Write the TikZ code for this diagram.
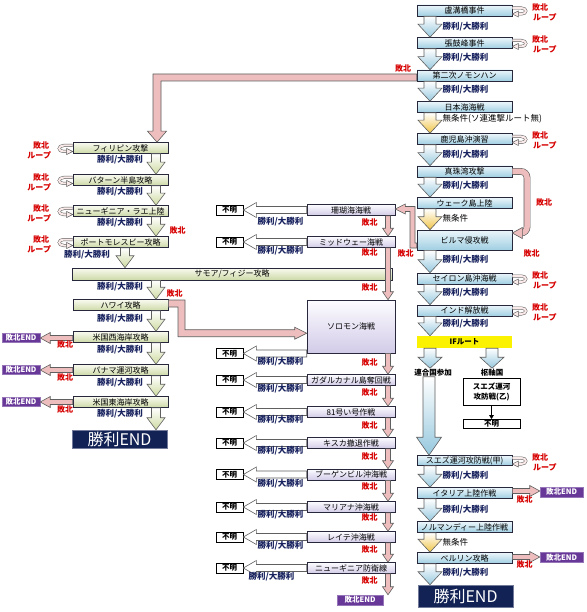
\documentclass[tikz,border=0pt]{standalone}
\usepackage{fontspec}
\setmainfont{Noto Sans CJK JP}
\usetikzlibrary{calc,arrows.meta}
\pgfdeclarelayer{back}
\pgfsetlayers{back,main}
\definecolor{bordc}{RGB}{40,40,60}
\definecolor{rtop}{RGB}{236,246,251}
\definecolor{rbot}{RGB}{160,207,226}
\definecolor{ltop}{RGB}{249,251,240}
\definecolor{lbot}{RGB}{205,217,168}
\definecolor{mtop}{RGB}{253,252,255}
\definecolor{mbot}{RGB}{210,203,232}
\definecolor{arrc}{RGB}{95,95,95}
\definecolor{bluec}{RGB}{150,200,222}
\definecolor{yelc}{RGB}{240,196,70}
\definecolor{grnc}{RGB}{205,218,160}
\definecolor{pinkc}{RGB}{238,190,190}
\definecolor{loopc}{RGB}{250,234,234}
\definecolor{purp}{RGB}{104,56,152}
\definecolor{navy}{RGB}{18,34,84}
\definecolor{winc}{RGB}{25,35,95}
\definecolor{losec}{RGB}{215,0,0}
\definecolor{ifc}{RGB}{250,242,0}
\tikzset{
 bx/.style={draw=bordc, line width=0.6pt, minimum height=11pt, inner sep=0pt, font=\fontsize{8}{9}\selectfont, text=black},
 rbox/.style={bx, minimum width=95pt, top color=rtop, bottom color=rbot},
 lbox/.style={bx, minimum width=95pt, top color=ltop, bottom color=lbot},
 mbox/.style={bx, minimum width=88pt, top color=mtop, bottom color=mbot},
 unk/.style={draw=black, line width=0.7pt, fill=white, minimum width=27pt, minimum height=10pt, inner sep=0pt, font=\bfseries\fontsize{7.5}{8}\selectfont},
 endbox/.style={fill=purp, draw=purp!70!white, line width=0.5pt, text=white, font=\bfseries\fontsize{7.5}{8}\selectfont, inner sep=0pt, minimum height=10pt},
 winbox/.style={fill=navy, draw=navy!60!white, line width=0.5pt, text=white, font=\fontsize{16}{16}\selectfont, inner sep=0pt, minimum width=95pt},
 ifbox/.style={fill=ifc, minimum width=95pt, minimum height=12pt, inner sep=0pt, font=\bfseries\fontsize{7.5}{8}\selectfont},
 suez/.style={draw=black, line width=0.7pt, fill=white, minimum width=57pt, minimum height=27pt, inner sep=0pt, align=center, font=\bfseries\fontsize{7.5}{10}\selectfont},
 win/.style={text=winc, font=\bfseries\fontsize{8.5}{9}\selectfont, inner sep=0.5pt},
 lose/.style={text=losec, font=\bfseries\fontsize{8}{8.5}\selectfont, inner sep=0.5pt},
 plainb/.style={text=black, font=\bfseries\fontsize{7.5}{8}\selectfont, inner sep=0.5pt},
 cond/.style={text=black, font=\fontsize{8.5}{9}\selectfont, inner sep=0.5pt},
 barrow/.style={draw=arrc, line width=0.6pt, top color=white, bottom color=bluec},
 yarrow/.style={draw=arrc, line width=0.6pt, top color=white, bottom color=yelc},
 garrow/.style={draw=arrc, line width=0.6pt, top color=white, bottom color=grnc},
 pinkfat/.style={draw=arrc, line width=0.6pt, fill=pinkc},
 warrow/.style={draw=arrc, line width=0.6pt, fill=white},
 loopline/.style={draw=arrc, double=loopc, double distance=2pt, line width=0.5pt},
 loophead/.style={draw=arrc, fill=loopc, line width=0.5pt},
 pinkdouble/.style={draw=arrc, double=pinkc, double distance=5.5pt, line width=0.6pt, rounded corners=6pt}
}
% vertical fat arrow: style, from, to, x, shaft half, head half, head length
\newcommand\fatdown[7]{%
 \path[#1] let \p1=(#2.south), \p2=(#3.north) in
  (#4pt-#5pt,\y1) -- (#4pt+#5pt,\y1) -- (#4pt+#5pt,\y2+#7pt) -- (#4pt+#6pt,\y2+#7pt)
  -- (#4pt,\y2) -- (#4pt-#6pt,\y2+#7pt) -- (#4pt-#5pt,\y2+#7pt) -- cycle;}
% horizontal fat arrows: style, from, to, shaft half, head half, head length, signed shift
\newcommand\fatright[7]{%
 \path[#1] let \p1=(#2.east), \p2=(#3.west) in
  (\x1,{\y1#7+#4pt}) -- ({\x2-#6pt},{\y1#7+#4pt}) -- ({\x2-#6pt},{\y1#7+#5pt}) -- (\x2,{\y1#7})
  -- ({\x2-#6pt},{\y1#7-#5pt}) -- ({\x2-#6pt},{\y1#7-#4pt}) -- (\x1,{\y1#7-#4pt}) -- cycle;}
\newcommand\fatleft[7]{%
 \path[#1] let \p1=(#2.west), \p2=(#3.east) in
  (\x1,{\y1#7+#4pt}) -- ({\x2+#6pt},{\y1#7+#4pt}) -- ({\x2+#6pt},{\y1#7+#5pt}) -- (\x2,{\y1#7})
  -- ({\x2+#6pt},{\y1#7-#5pt}) -- ({\x2+#6pt},{\y1#7-#4pt}) -- (\x1,{\y1#7-#4pt}) -- cycle;}
% white arrow to unknown box
\newcommand\wleft[2]{%
 \path[warrow] let \p1=(#1.west), \p2=(#2.east) in
  (\x1,\y2+3.5pt) -- (\x2+13pt,\y2+3.5pt) -- (\x2+13pt,\y2+7.5pt) -- (\x2,\y2)
  -- (\x2+13pt,\y2-7.5pt) -- (\x2+13pt,\y2-3.5pt) -- (\x1,\y2-3.5pt) -- cycle;}
% defeat loops
\newcommand\loopR[1]{%
 \draw[loopline] ([yshift=2.5pt]#1.east) -- ++(9,0) .. controls +(6,0) and +(6,0) .. ++(0,6) -- ++(-3,0);
 \path[loophead] ([yshift=-3.5pt]#1.east) -- ++(6,-3) -- ++(0,6) -- cycle;
 \node[lose,anchor=west] (#1-a) at ($(#1.east)+(19,-3.5)$) {敗北};
 \node[lose,anchor=west] (#1-b) at ($(#1.east)+(20,6.5)$) {ループ};}
\newcommand\loopL[1]{%
 \draw[loopline] ([yshift=2.5pt]#1.west) -- ++(-9,0) .. controls +(-6,0) and +(-6,0) .. ++(0,6) -- ++(3,0);
 \path[loophead] ([yshift=-3.5pt]#1.west) -- ++(-6,-3) -- ++(0,6) -- cycle;
 \node[lose,anchor=east] (#1-a) at ($(#1.west)+(-23,-3)$) {敗北};
 \node[lose,anchor=east] (#1-b) at ($(#1.west)+(-21,7)$) {ループ};}
\begin{document}
\begin{tikzpicture}[x=1pt,y=-1pt]
\fill[white] (0,0) rectangle (586,612);
\useasboundingbox (0,0) rectangle (586,612);

% ---------- right column ----------
\node[rbox] (r1) at (464.5,10.5) {盧溝橋事件};
\node[rbox] (r2) at (464.5,43) {張鼓峰事件};
\node[rbox] (r3) at (464.5,75.5) {第二次ノモンハン};
\node[rbox] (r4) at (464.5,107) {日本海海戦};
\node[rbox] (r5) at (464.5,139) {鹿児島沖演習};
\node[rbox] (r6) at (464.5,171.5) {真珠湾攻撃};
\node[rbox] (r7) at (464.5,203) {ウェーク島上陸};
\node[rbox, minimum height=20pt] (r8) at (464.5,240) {ビルマ侵攻戦};
\node[rbox] (r9) at (464.5,278.5) {セイロン島沖海戦};
\node[rbox] (r10) at (464.5,310.5) {インド解放戦};
\node[ifbox] (rif) at (464.5,342) {IFルート};
\node[plainb] (allied) at (433,372.5) {連合国参加};
\node[plainb] (axis) at (492,372.5) {枢軸国};
\node[suez] (suezb) at (491.5,391.5) {スエズ運河\\攻防戦(乙)};
\node[unk, minimum width=57pt, minimum height=9pt] (unkb) at (491.5,424) {不明};
\node[rbox, minimum height=10pt] (r12) at (464.5,460.5) {スエズ運河攻防戦(甲)};
\node[rbox] (r13) at (464.5,493) {イタリア上陸作戦};
\node[rbox] (r14) at (464.5,527) {ノルマンディー上陸作戦};
\node[rbox] (r15) at (464.5,558) {ベルリン攻略};
\node[winbox, minimum height=22pt] (rwin) at (465.5,596) {勝利END};
\node[endbox, minimum width=43pt] (re1) at (561.5,492) {敗北END};
\node[endbox, minimum width=43pt] (re2) at (561.5,557.5) {敗北END};

% ---------- left column ----------
\node[lbox] (l1) at (120.5,148) {フィリピン攻撃};
\node[lbox] (l2) at (120.5,180) {バターン半島攻略};
\node[lbox] (l3) at (120.5,211) {ニューギニア・ラエ上陸};
\node[lbox] (l4) at (120.5,242) {ポートモレスビー攻略};
\node[lbox, minimum width=320pt, minimum height=12pt] (l5) at (232,274) {サモア/フィジー攻略};
\node[lbox] (l6) at (120.5,305) {ハワイ攻略};
\node[lbox] (l7) at (120.5,337) {米国西海岸攻略};
\node[lbox] (l8) at (120.5,370) {パナマ運河攻略};
\node[lbox] (l9) at (120.5,402) {米国東海岸攻略};
\node[winbox, minimum height=18pt] (lwin) at (119.5,439) {勝利END};
\node[endbox, minimum width=38pt, minimum height=9pt] (le1) at (21,337.5) {敗北END};
\node[endbox, minimum width=38pt, minimum height=9pt] (le2) at (21,370) {敗北END};
\node[endbox, minimum width=38pt, minimum height=9pt] (le3) at (21,402) {敗北END};

% ---------- middle column ----------
\node[mbox] (m1) at (351,210) {珊瑚海海戦};
\node[mbox] (m2) at (351,242) {ミッドウェー海戦};
\node[mbox, minimum height=53pt] (m3) at (351,326.5) {ソロモン海戦};
\node[mbox] (m4) at (351,380) {ガダルカナル島奪回戦};
\node[mbox] (m5) at (351,412) {81号い号作戦};
\node[mbox] (m6) at (351,443) {キスカ撤退作戦};
\node[mbox] (m7) at (351,474.5) {ブーゲンビル沖海戦};
\node[mbox] (m8) at (351,507) {マリアナ沖海戦};
\node[mbox] (m9) at (351,537) {レイテ沖海戦};
\node[mbox] (m10) at (351,568) {ニューギニア防衛線};
\node[endbox, minimum width=46pt] (mend) at (360,600) {敗北END};
\node[unk] (u1) at (229.5,210) {不明};
\node[unk] (u2) at (229.5,242) {不明};
\node[unk] (u3) at (229.5,353.5) {不明};
\node[unk] (u4) at (229.5,380) {不明};
\node[unk] (u5) at (229.5,412) {不明};
\node[unk] (u6) at (229.5,443) {不明};
\node[unk] (u7) at (229.5,474.5) {不明};
\node[unk] (u8) at (229.5,507) {不明};
\node[unk] (u9) at (229.5,537) {不明};
\node[unk] (u10) at (229.5,568) {不明};

% ---------- right column arrows ----------
\fatdown{barrow}{r1}{r2}{430}{6}{12}{13}
\fatdown{barrow}{r2}{r3}{430}{6}{12}{13}
\fatdown{barrow}{r3}{r4}{430}{6}{12}{13}
\fatdown{yarrow}{r4}{r5}{430}{6}{12}{13}
\fatdown{barrow}{r5}{r6}{430}{6}{12}{13}
\fatdown{barrow}{r6}{r7}{430}{6}{12}{13}
\fatdown{yarrow}{r7}{r8}{430}{6}{12}{13}
\fatdown{barrow}{r8}{r9}{430}{6}{12}{13}
\fatdown{barrow}{r9}{r10}{430}{6}{12}{13}
\fatdown{barrow}{r10}{rif}{430}{6}{12}{13}
\fatdown{barrow}{rif}{allied}{430}{6}{12}{11}
\fatdown{barrow}{rif}{axis}{492}{6}{12}{11}
\fatdown{barrow}{allied}{r12}{429}{6}{12.5}{18}
\fatdown{barrow}{r12}{r13}{430}{6}{12}{13}
\fatdown{barrow}{r13}{r14}{430}{6}{12}{13}
\fatdown{yarrow}{r14}{r15}{430}{6}{12}{13}
\fatdown{barrow}{r15}{rwin}{430}{6}{12}{13}
\draw[-{Triangle[length=4pt,width=4.5pt]}, line width=0.9pt] (suezb.south) -- (unkb.north);
\fatright{pinkfat}{r13}{re1}{2.5}{5.5}{10}{+2pt}
\fatright{pinkfat}{r15}{re2}{2.5}{5.5}{10}{+1pt}

\node[win,anchor=west] (wr1) at (442,26.5) {勝利/大勝利};
\node[win,anchor=west] (wr2) at (442,58) {勝利/大勝利};
\node[win,anchor=west] (wr3) at (442,89.5) {勝利/大勝利};
\node[cond,anchor=west] (cr4) at (442,118.5) {無条件(ソ連進撃ルート無)};
\node[win,anchor=west] (wr5) at (442,154.5) {勝利/大勝利};
\node[win,anchor=west] (wr6) at (442,186) {勝利/大勝利};
\node[cond,anchor=west] (cr7) at (442,218) {無条件};
\node[win,anchor=west] (wr8) at (442,260) {勝利/大勝利};
\node[win,anchor=west] (wr9) at (442,293) {勝利/大勝利};
\node[win,anchor=west] (wr10) at (442,324) {勝利/大勝利};
\node[win,anchor=west] (wr12) at (442,476) {勝利/大勝利};
\node[win,anchor=west] (wr13) at (442,509.5) {勝利/大勝利};
\node[cond,anchor=west] (cr14) at (442,542) {無条件};
\node[win,anchor=west] (wr15) at (442,573) {勝利/大勝利};
\node[lose] (xr13) at (524.5,499.5) {敗北};
\node[lose] (xr15) at (524.5,564.5) {敗北};

\loopR{r1}
\loopR{r2}
\loopR{r5}
\loopR{r9}
\loopR{r10}
\loopR{r12}

% Pearl Harbor defeat -> Burma
\draw[pinkdouble] (r6.east) -- (527,171.5) -- (527,233) -- (518,233);
\path[pinkfat] ([yshift=7pt]r8.east) -- ++(10,-5.5) -- ++(0,11) -- cycle;
\node[lose] (xr6) at (544,202) {敗北};
\node[lose] (xr8b) at (531.5,253) {敗北};

% Nomonhan defeat -> Philippines
\path[pinkfat] let \p1=(r3.west), \p2=(l1.north) in
 (\x1,\y1+1.5pt) -- (153pt,\y1+1.5pt) -- (153pt,\y2+11pt) -- (147.5pt,\y2+11pt) -- (157pt,\y2)
 -- (166.5pt,\y2+11pt) -- (161pt,\y2+11pt) -- (161pt,\y1-5.5pt) -- (\x1,\y1-5.5pt) -- cycle;
\node[lose] (xr3) at (403,68) {敗北};

% Burma defeat -> Coral Sea
\path[pinkfat] let \p1=(r8.west), \p2=(m1.east) in
 (\x1,\y1-3pt) -- (415pt,\y1-3pt) -- (415pt,\y2+3.5pt) -- (\x2+10pt,\y2+3.5pt) -- (\x2+10pt,\y2+6pt)
 -- (\x2,\y2+1pt) -- (\x2+10pt,\y2-4pt) -- (\x2+10pt,\y2-1.5pt) -- (410pt,\y2-1.5pt)
 -- (410pt,\y1-8pt) -- (\x1,\y1-8pt) -- cycle;
\node[lose] (xr8) at (405.5,253) {敗北};

% ---------- left column arrows ----------
\fatdown{garrow}{l1}{l2}{156}{4.5}{9}{12}
\fatdown{garrow}{l2}{l3}{156}{4.5}{9}{12}
\fatdown{garrow}{l3}{l4}{156}{4.5}{9}{12}
\fatdown{garrow}{l4}{l5}{125}{4.5}{9}{12}
\fatdown{garrow}{l5}{l6}{156}{4.5}{9}{12}
\fatdown{garrow}{l6}{l7}{156}{4.5}{9}{12}
\fatdown{garrow}{l7}{l8}{156}{4.5}{9}{12}
\fatdown{garrow}{l8}{l9}{156}{4.5}{9}{12}
\fatdown{garrow}{l9}{lwin}{156}{4.5}{9}{12}
\fatleft{pinkfat}{l7}{le1}{2.5}{5.5}{10}{-1pt}
\fatleft{pinkfat}{l8}{le2}{2.5}{5.5}{10}{-0pt}
\fatleft{pinkfat}{l9}{le3}{2.5}{5.5}{10}{-0pt}
\node[win] (wl1) at (120,160) {勝利/大勝利};
\node[win] (wl2) at (120,192) {勝利/大勝利};
\node[win] (wl3) at (120,223) {勝利/大勝利};
\node[win] (wl4) at (87,255) {勝利/大勝利};
\node[win] (wl5) at (120,287) {勝利/大勝利};
\node[win] (wl6) at (120,318.5) {勝利/大勝利};
\node[win] (wl7) at (120,350) {勝利/大勝利};
\node[win] (wl8) at (120,383) {勝利/大勝利};
\node[win] (wl9) at (120,414) {勝利/大勝利};
\node[lose] (xl7) at (65,344.5) {敗北};
\node[lose] (xl8) at (65,377.5) {敗北};
\node[lose] (xl9) at (65,409.5) {敗北};
\loopL{l1}
\loopL{l2}
\loopL{l3}
\loopL{l4}

% Port Moresby defeat -> Solomon (behind Samoa box)
\begin{pgfonlayer}{back}
\path[pinkfat] let \p1=(l4.east), \p2=(m3.north west) in
 (\x1,\y1+5pt) -- (205pt,\y1+5pt) -- (205pt,\y2) -- (\x2-12pt,\y2) -- (\x2-12pt,\y2+2.5pt)
 -- (\x2,\y2-3.5pt) -- (\x2-12pt,\y2-9.5pt) -- (\x2-12pt,\y2-7pt) -- (198pt,\y2-7pt)
 -- (198pt,\y1-2pt) -- (\x1,\y1-2pt) -- cycle;
\end{pgfonlayer}
\node[lose] (xl4) at (177.5,230) {敗北};
% Hawaii defeat -> Solomon
\path[pinkfat] let \p1=(l6.east), \p2=(m3.north west) in
 (\x1,\y1+5pt) -- (185pt,\y1+5pt) -- (185pt,\y2-30pt) -- (\x2-12pt,\y2-30pt) -- (\x2-12pt,\y2-27.5pt)
 -- (\x2,\y2-33.5pt) -- (\x2-12pt,\y2-39.5pt) -- (\x2-12pt,\y2-37pt) -- (178pt,\y2-37pt)
 -- (178pt,\y1-2pt) -- (\x1,\y1-2pt) -- cycle;
\node[lose] (xl6) at (174.5,293.5) {敗北};

% ---------- middle column arrows ----------
\fatdown{pinkfat}{m1}{m2}{388}{2.5}{5.5}{8}
\fatdown{pinkfat}{m2}{m3}{388}{2.5}{5.5}{8}
\fatdown{pinkfat}{m3}{m4}{388}{2.5}{5.5}{8}
\fatdown{pinkfat}{m4}{m5}{388}{2.5}{5.5}{8}
\fatdown{pinkfat}{m5}{m6}{388}{2.5}{5.5}{8}
\fatdown{pinkfat}{m6}{m7}{388}{2.5}{5.5}{8}
\fatdown{pinkfat}{m7}{m8}{388}{2.5}{5.5}{8}
\fatdown{pinkfat}{m8}{m9}{388}{2.5}{5.5}{8}
\fatdown{pinkfat}{m9}{m10}{388}{2.5}{5.5}{8}
\fatdown{pinkfat}{m10}{mend}{388}{2.5}{5.5}{8}
\wleft{m1}{u1}
\wleft{m2}{u2}
\wleft{m3}{u3}
\wleft{m4}{u4}
\wleft{m5}{u5}
\wleft{m6}{u6}
\wleft{m7}{u7}
\wleft{m8}{u8}
\wleft{m9}{u9}
\wleft{m10}{u10}
\node[win,anchor=west] (wm1) at (257,221.5) {勝利/大勝利};
\node[win,anchor=west] (wm2) at (257,251) {勝利/大勝利};
\node[win,anchor=west] (wm3) at (257,362) {勝利/大勝利};
\node[win,anchor=west] (wm4) at (257,389) {勝利/大勝利};
\node[win,anchor=west] (wm5) at (257,420) {勝利/大勝利};
\node[win,anchor=west] (wm6) at (257,451) {勝利/大勝利};
\node[win,anchor=west] (wm7) at (257,484) {勝利/大勝利};
\node[win,anchor=west] (wm8) at (257,515) {勝利/大勝利};
\node[win,anchor=west] (wm9) at (257,545.5) {勝利/大勝利};
\node[win,anchor=west] (wm10) at (248,577) {勝利/大勝利};
\node[lose] (xm1) at (369.5,222) {敗北};
\node[lose] (xm2) at (369.5,252) {敗北};
\node[lose] (xm2b) at (369.5,287) {敗北};
\node[lose] (xm3) at (369.5,362) {敗北};
\node[lose] (xm4) at (369.5,392) {敗北};
\node[lose] (xm5) at (369.5,425) {敗北};
\node[lose] (xm6) at (369.5,456) {敗北};
\node[lose] (xm7) at (369.5,486) {敗北};
\node[lose] (xm8) at (369.5,517) {敗北};
\node[lose] (xm9) at (369.5,549) {敗北};
\node[lose] (xm10) at (369.5,580) {敗北};
\end{tikzpicture}
\end{document}
